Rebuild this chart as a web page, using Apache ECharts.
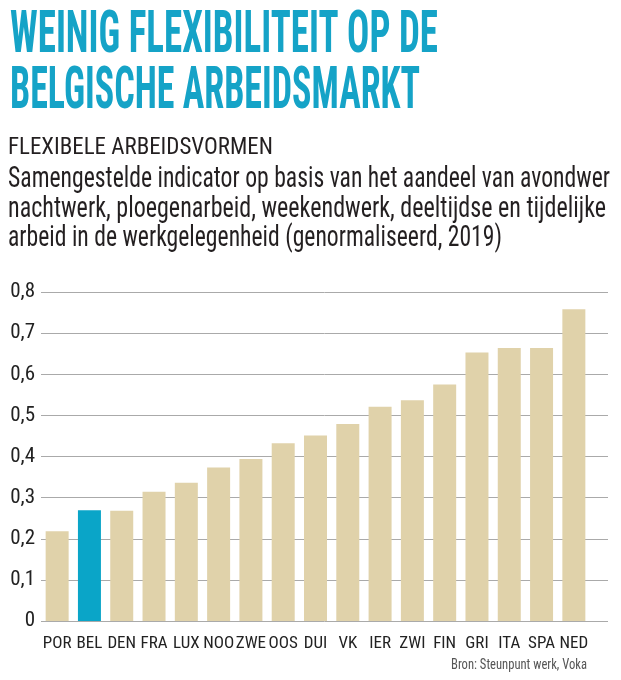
<!DOCTYPE html>
<html><head><meta charset="utf-8">
<script src="https://cdn.jsdelivr.net/npm/echarts@6/dist/echarts.min.js"></script>
<style>html,body{margin:0;padding:0;background:#fff}#c{width:621px;height:680px}</style>
</head><body><div id="c"></div>
<script>
const categories = ['POR','BEL','DEN','FRA','LUX','NOO','ZWE','OOS','DUI','VK','IER','ZWI','FIN','GRI','ITA','SPA','NED'];
const values = [0.218,0.269,0.268,0.314,0.336,0.373,0.394,0.432,0.451,0.479,0.521,0.537,0.575,0.653,0.664,0.664,0.758];
const highlight = 'BEL';
const yMin = 0, yMax = 0.8, yStep = 0.1;
const titleLines = ['WEINIG FLEXIBILITEIT OP DE', 'BELGISCHE ARBEIDSMARKT'];
const subtitle = 'FLEXIBELE ARBEIDSVORMEN';
const bodyLines = [
  'Samengestelde indicator op basis van het aandeel van avondwer',
  'nachtwerk, ploegenarbeid, weekendwerk, deeltijdse en tijdelijke',
  'arbeid in de werkgelegenheid (genormaliseerd, 2019)'
];
const source = 'Bron: Steunpunt werk, Voka';

const ctx = document.createElement('canvas').getContext('2d');
function tw(font, t){ ctx.font = font; return ctx.measureText(t).width; }
function has(f){
  const t = 'POR BEL mmmWWWiii 0123 abc';
  return ['monospace','serif'].some(g => Math.abs(tw(`20px "${f}", ${g}`, t) - tw(`20px ${g}`, t)) > 0.1);
}
const narrowCands = ['Roboto Condensed','Liberation Sans Narrow','DejaVu Sans Condensed'];
const found = narrowCands.filter(has);
const F = found.length ? found[0] : 'Roboto';

function scaled(text, x, yMid, size, weight, color, targetW){
  const font = `${weight} ${size}px "${F}"`;
  const s = targetW / tw(font, text);
  return {type:'text', x:x, y:yMid, scaleX:s, silent:true,
    style:{text:text, fontSize:size, fontWeight:weight, fontFamily:F, fill:color, align:'left', verticalAlign:'middle'}};
}

const chart = echarts.init(document.getElementById('c'), null, {renderer:'canvas'});
chart.setOption({
  animation:false,
  backgroundColor:'#fff',
  graphic:[
    scaled(titleLines[0], 10, 37, 60, 'bold', '#15a3c7', 428),
    scaled(titleLines[1], 10, 92.5, 60, 'bold', '#15a3c7', 410),
    scaled(subtitle, 8, 148, 23, 'normal', '#231f20', 265),
    scaled(bodyLines[0], 8, 180, 29, 'normal', '#231f20', 602),
    scaled(bodyLines[1], 8, 209.5, 29, 'normal', '#231f20', 598),
    scaled(bodyLines[2], 8, 239, 29, 'normal', '#231f20', 494),
    scaled(source, 451, 665, 15, 'normal', '#555', 136)
  ],
  grid:[
    {left:41, right:31, top:292, height:329},
    {left:41, right:13, top:292, height:329}
  ],
  xAxis:[
    {type:'category', gridIndex:0, data:categories, boundaryGap:true,
     axisLine:{show:false}, axisTick:{show:false},
     axisLabel:{interval:0, fontSize:17, color:'#222', margin:14, fontFamily:F}},
    {type:'value', gridIndex:1, show:false, min:0, max:1}
  ],
  yAxis:[
    {type:'value', gridIndex:0, min:yMin, max:yMax, interval:yStep, show:false},
    {type:'value', gridIndex:1, min:yMin, max:yMax, interval:yStep,
     axisLine:{show:false}, axisTick:{show:false},
     splitLine:{lineStyle:{color:'#aaaaaa', width:1}},
     axisLabel:{fontSize:21, color:'#222', margin:6, fontFamily:F,
       formatter: v => v === 0 ? '0' : v.toFixed(1).replace('.', ',')}}
  ],
  series:[{
    type:'bar', xAxisIndex:0, yAxisIndex:0, barWidth:23,
    data: values.map((v,i) => ({value:v, itemStyle:{color: categories[i] === highlight ? '#0aa5c8' : '#e0d2aa'}}))
  }]
});
</script></body></html>
